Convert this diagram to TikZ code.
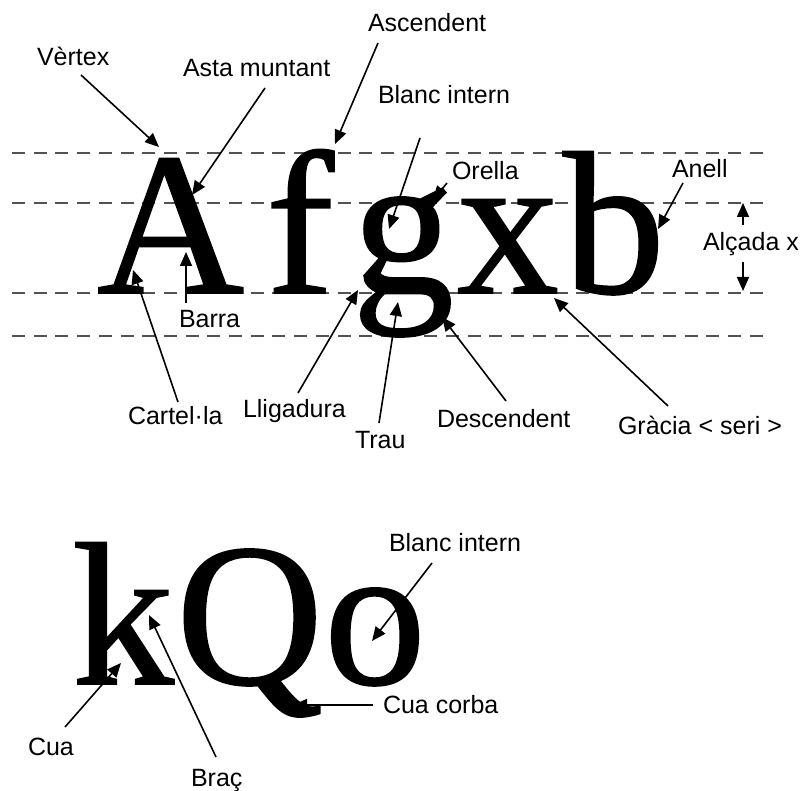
\documentclass[tikz,border=0pt]{standalone}
\usepackage{fontspec}
\setmainfont{Liberation Sans}
\newfontfamily\glyphfont[FakeBold=0.8]{Liberation Serif}
\usetikzlibrary{arrows.meta}
\tikzset{
  glyph/.style={inner sep=0pt, outer sep=0pt, anchor=base west, font=\glyphfont\fontsize{204}{204}\selectfont},
  lbl/.style={inner sep=0pt, outer sep=0pt, anchor=base west, font=\fontsize{25}{25}\selectfont},
  guide/.style={draw=black!68, line width=2.6pt, dash pattern=on 13pt off 8.7pt},
  arr/.style={draw=black, line width=1.6pt, -{Triangle[length=14pt,width=12pt]}, shorten >=0pt},
}
\begin{document}
\begin{tikzpicture}[x=1pt,y=-1pt]
\useasboundingbox (0,0) rectangle (802,791);
% guide lines
\coordinate (g1a) at (12,153); \coordinate (g1b) at (768,153);
\coordinate (g2a) at (12,203); \coordinate (g2b) at (768,203);
\coordinate (g3a) at (12,293); \coordinate (g3b) at (768,293);
\coordinate (g4a) at (12,336); \coordinate (g4b) at (768,336);
\draw[guide] (g1a) -- (g1b);
\draw[guide] (g2a) -- (g2b);
\draw[guide] (g3a) -- (g3b);
\draw[guide] (g4a) -- (g4b);
% glyphs, top row
\node[glyph] (gA) at (97,293) {A};
\node[glyph] (gf) at (266,293) {f};
\node[glyph] (gg) at (352,293) {g};
\node[glyph] (gx) at (457,293) {x};
\node[glyph] (gb) at (563,293) {b};
% glyphs, bottom row
\node[glyph] (gk) at (72,684) {k};
\node[glyph] (gQ) at (176,684) {Q};
\node[glyph] (go) at (324,684) {o};
% labels
\node[lbl] (vertex) at (37,66) {Vèrtex};
\node[lbl] (asta) at (183,77) {Asta muntant};
\node[lbl] (ascend) at (368,32) {Ascendent};
\node[lbl] (blanc1) at (378,104) {Blanc intern};
\node[lbl] (orella) at (452,180) {Orella};
\node[lbl] (anell) at (672,178) {Anell};
\node[lbl] (alcada) at (703,251) {Alçada x};
\node[lbl] (barra) at (179,327) {Barra};
\node[lbl] (cartela) at (128,424) {Cartel·la};
\node[lbl] (lligad) at (243,417) {Lligadura};
\node[lbl] (trau) at (355,448) {Trau};
\node[lbl] (descend) at (437,427) {Descendent};
\node[lbl] (gracia) at (618,434) {Gràcia < seri >};
\node[lbl] (blanc2) at (389,551) {Blanc intern};
\node[lbl] (cuacorba) at (383,713) {Cua corba};
\node[lbl] (cua) at (28,755) {Cua};
\node[lbl] (brac) at (191,786) {Braç};
% arrow end points
\coordinate (vertex-s) at (81,75);   \coordinate (vertex-t) at (159,147);
\coordinate (asta-s) at (265,88);    \coordinate (asta-t) at (192,195);
\coordinate (ascend-s) at (378,43);  \coordinate (ascend-t) at (335,144);
\coordinate (blanc1-s) at (420,138); \coordinate (blanc1-t) at (389,229);
\coordinate (orella-s) at (447,183); \coordinate (orella-t) at (433,200);
\coordinate (anell-s) at (683,183);  \coordinate (anell-t) at (658,229);
\coordinate (alc-up-s) at (743,225); \coordinate (alc-up-t) at (743,203);
\coordinate (alc-dn-s) at (743,262); \coordinate (alc-dn-t) at (743,291);
\coordinate (barra-s) at (186,303);  \coordinate (barra-t) at (186,252);
\coordinate (cartela-s) at (178,402);\coordinate (cartela-t) at (133,270);
\coordinate (lligad-s) at (298,393); \coordinate (lligad-t) at (358,290);
\coordinate (trau-s) at (379,423);   \coordinate (trau-t) at (398,302);
\coordinate (descend-s) at (506,401);\coordinate (descend-t) at (442,317);
\coordinate (gracia-s) at (668,406); \coordinate (gracia-t) at (554,298);
\coordinate (blanc2-s) at (432,563); \coordinate (blanc2-t) at (372,641);
\coordinate (cuac-s) at (373,705);   \coordinate (cuac-t) at (293,705);
\coordinate (cua-s) at (65,727);     \coordinate (cua-t) at (121,663);
\coordinate (brac-s) at (216,757);   \coordinate (brac-t) at (149,615);
% arrows
\draw[arr] (vertex-s) -- (vertex-t);
\draw[arr] (asta-s) -- (asta-t);
\draw[arr] (ascend-s) -- (ascend-t);
\draw[arr] (blanc1-s) -- (blanc1-t);
\draw[arr] (orella-s) -- (orella-t);
\draw[arr] (anell-s) -- (anell-t);
\draw[arr] (alc-up-s) -- (alc-up-t);
\draw[arr] (alc-dn-s) -- (alc-dn-t);
\draw[arr] (barra-s) -- (barra-t);
\draw[arr] (cartela-s) -- (cartela-t);
\draw[arr] (lligad-s) -- (lligad-t);
\draw[arr] (trau-s) -- (trau-t);
\draw[arr] (descend-s) -- (descend-t);
\draw[arr] (gracia-s) -- (gracia-t);
\draw[arr] (blanc2-s) -- (blanc2-t);
\draw[arr] (cuac-s) -- (cuac-t);
\draw[arr] (cua-s) -- (cua-t);
\draw[arr] (brac-s) -- (brac-t);
\end{tikzpicture}
\end{document}
